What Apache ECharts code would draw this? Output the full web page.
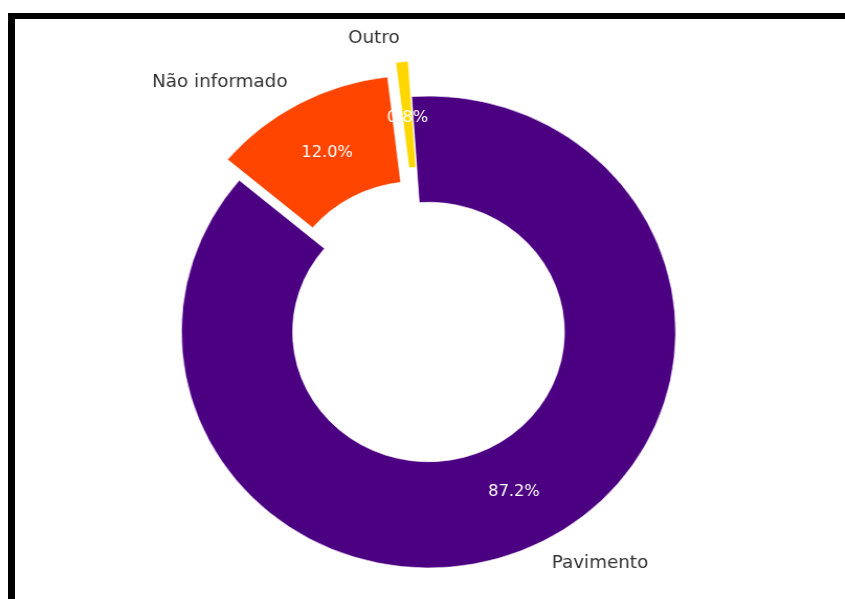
<!DOCTYPE html>
<html>
<head>
<meta charset="utf-8">
<script src="https://cdn.jsdelivr.net/npm/echarts@6/dist/echarts.min.js"></script>
<style>
  html, body { margin: 0; padding: 0; background: #fff; overflow: hidden; }
  #frame {
    position: absolute; left: 7.5px; top: 12.7px; width: 900px; height: 700px;
    border-top: 6.6px solid #000; border-left: 7.8px solid #000; box-sizing: border-box;
  }
  #chart {
    position: absolute; left: 0; top: 0; width: 807px; height: 599px;
    transform: scaleX(1.047); transform-origin: 0 0;
  }
</style>
</head>
<body>
<div id="frame"></div>
<div id="chart"></div>
<script>
// Slice data (counter-clockwise from the start angle)
const categories = ['Pavimento', 'Outro', 'Não informado'];
const shares = [87.2, 0.8, 12.0];
const colors = ['#4B0082', '#FFD700', '#FF4500'];
const explode = [0, 0.15, 0.1];

// Donut geometry
const CX = 409.3, CY = 332;
const R = 236;
const HOLE = 0.55;
const START = 140;
const LABEL_DIST = 1.1;
const PCT_DIST = 0.75;

const total = shares.reduce((a, b) => a + b, 0);
const series = [];
let cum = 0;

categories.forEach((name, i) => {
  const mid = (START + (cum + shares[i] / 2) / total * 360) * Math.PI / 180;
  cum += shares[i];
  const off = explode[i] * R;
  const center = [CX + off * Math.cos(mid), CY - off * Math.sin(mid)];

  const base = {
    type: 'pie',
    center: center,
    startAngle: START,
    clockwise: false,
    avoidLabelOverlap: false,
    silent: true,
    animation: false,
    emphasis: { disabled: true }
  };

  // Ring wedge with its category name outside
  series.push(Object.assign({}, base, {
    radius: [R * HOLE, R],
    label: {
      show: true, position: 'outside', distanceToLabelLine: 0,
      fontFamily: 'DejaVu Sans', fontSize: 17.5, color: '#333',
      formatter: '{b}'
    },
    labelLine: { show: false, length: R * (LABEL_DIST - 1), length2: 0 },
    data: categories.map((n, j) => ({
      name: n, value: shares[j],
      itemStyle: j === i ? { color: colors[j], borderColor: '#fff', borderWidth: 0.6 } : { color: 'rgba(0,0,0,0)' },
      label: { show: j === i }
    }))
  }));

  // Percentage label placed at PCT_DIST of the radius
  series.push(Object.assign({}, base, {
    radius: [0, R * PCT_DIST * 2],
    label: {
      show: true, position: 'inside',
      fontFamily: 'DejaVu Sans', fontSize: 15.5, color: '#fff',
      padding: [3, 0, 0, 0],
      formatter: p => p.value.toFixed(1) + '%'
    },
    labelLine: { show: false },
    z: 5,
    data: categories.map((n, j) => ({
      name: n, value: shares[j],
      itemStyle: { color: 'rgba(0,0,0,0)' },
      label: { show: j === i }
    }))
  }));
});

const chart = echarts.init(document.getElementById('chart'), null, { renderer: 'canvas' });
chart.setOption({
  backgroundColor: 'transparent',
  series: series
});
</script>
</body>
</html>
